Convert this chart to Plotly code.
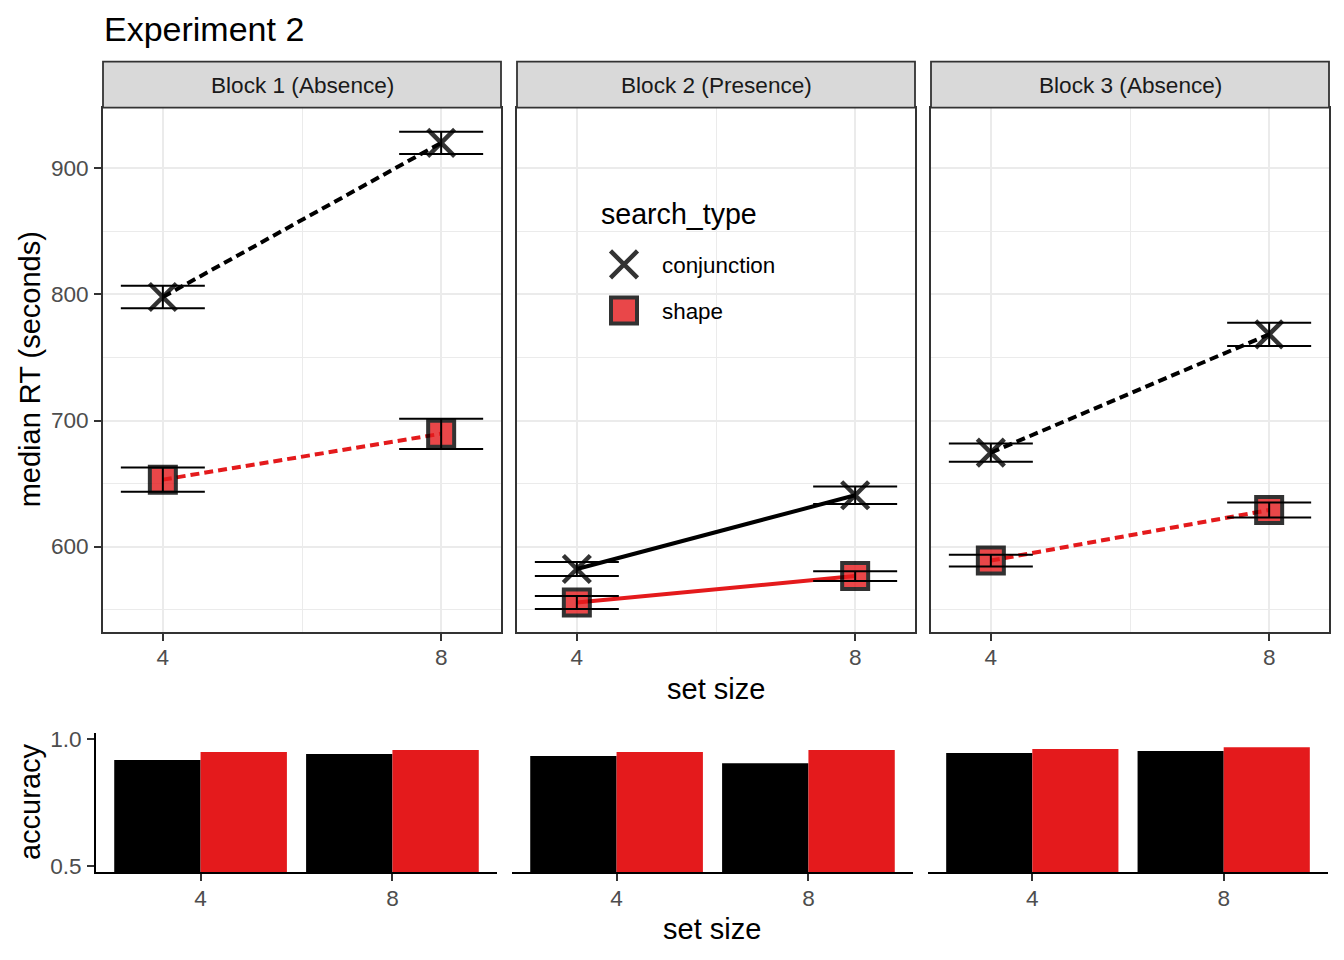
import plotly.graph_objects as go

# the page body has an 8px margin, so the figure is made that much smaller
OFF = 8
W, H = 1344 - 2 * OFF, 960 - 2 * OFF
# the photographed page comes out slightly squeezed vertically; undo it
SY, DY = 0.988, 6.5
FONT = "Liberation Sans, Arial, sans-serif"

blocks = ["Block 1 (Absence)", "Block 2 (Presence)", "Block 3 (Absence)"]
set_size = [4, 8]
set_size_labels = ["4", "8"]
search_types = ["conjunction", "shape"]

# median RT per block, values for set size 4 and 8
rt_conj = [[798.0, 920.3], [582.2, 640.7], [674.5, 768.4]]
rt_conj_err = [[9.0, 8.8], [5.5, 7.0], [7.2, 9.2]]
rt_shape = [[653.1, 689.5], [555.6, 576.6], [588.9, 629.0]]
rt_shape_err = [[9.6, 12.0], [5.2, 3.9], [4.7, 6.0]]

# accuracy per block
acc_conj = [[0.917, 0.941], [0.933, 0.905], [0.945, 0.953]]
acc_shape = [[0.949, 0.957], [0.949, 0.957], [0.961, 0.968]]

RED = "#E41A1C"
line_dash = ["9px,5px", "solid", "9px,5px"]

conj_marker = dict(symbol="x-thin-open", size=27, color="black", opacity=0.8,
                   line=dict(color="black", width=4.5))
shape_marker = dict(symbol="square", size=26, color=RED, opacity=0.8,
                    line=dict(color="black", width=4))

# panel boxes in window pixels
top_x = [(103, 501), (517, 915), (931, 1329)]
top_y = (108, 632.5)
strip_y = (62, 108)
bot_x = [(96, 497), (512, 913), (928, 1328)]
bot_y = (733.7, 873)


def fx(p):
    return (p - OFF) / W


def fy(p):
    p = (p - DY) / SY
    return 1 - (p - OFF) / H


fig = go.Figure()
layout = {}
tick_font = dict(family=FONT, size=22.6, color="#4D4D4D")

for i in range(3):
    xa, ya = "x%d" % (i + 1), "y%d" % (i + 1)
    for vals, col, mk in [(rt_conj[i], "black", conj_marker),
                          (rt_shape[i], RED, shape_marker)]:
        fig.add_trace(go.Scatter(x=set_size, y=vals, xaxis=xa, yaxis=ya, mode="lines+markers",
                                 line=dict(color=col, width=4, dash=line_dash[i]),
                                 marker=mk, showlegend=False))
    # error bars on top of the points
    for vals, errs in [(rt_conj[i], rt_conj_err[i]), (rt_shape[i], rt_shape_err[i])]:
        fig.add_trace(go.Scatter(x=set_size, y=vals, xaxis=xa, yaxis=ya, mode="markers",
                                 marker=dict(size=2, opacity=0),
                                 error_y=dict(type="data", array=errs, color="black",
                                              thickness=2, width=42),
                                 showlegend=False))

    layout["xaxis%d" % (i + 1)] = dict(
        domain=[fx(top_x[i][0]), fx(top_x[i][1])], anchor=ya, range=[3.14, 8.86],
        tickvals=set_size, ticktext=set_size_labels, showgrid=True, gridcolor="#EBEBEB",
        gridwidth=1.6, minor=dict(tickvals=[6], showgrid=True, gridcolor="#EBEBEB", gridwidth=0.8),
        showline=True, mirror=True, linecolor="#333333", linewidth=1.8,
        ticks="outside", ticklen=7, tickwidth=1.8, tickcolor="#333333",
        tickfont=tick_font, ticklabelstandoff=-3, zeroline=False)
    layout["yaxis%d" % (i + 1)] = dict(
        domain=[fy(top_y[1]), fy(top_y[0])], anchor=xa, range=[532.5, 948.3],
        tickvals=[600, 700, 800, 900], showgrid=True, gridcolor="#EBEBEB", gridwidth=1.6,
        minor=dict(tickvals=[550, 650, 750, 850], showgrid=True, gridcolor="#EBEBEB", gridwidth=0.8),
        showline=True, mirror=True, linecolor="#333333", linewidth=1.8,
        ticks="outside" if i == 0 else "", ticklen=7, tickwidth=1.8, tickcolor="#333333",
        showticklabels=(i == 0), tickfont=tick_font, ticklabelstandoff=1, zeroline=False)

# accuracy bars
for i in range(3):
    n = i + 4
    xa, ya = "x%d" % n, "y%d" % n
    fig.add_trace(go.Bar(x=set_size_labels, y=acc_conj[i], xaxis=xa, yaxis=ya,
                         marker=dict(color="black", line=dict(width=0)), showlegend=False))
    fig.add_trace(go.Bar(x=set_size_labels, y=acc_shape[i], xaxis=xa, yaxis=ya,
                         marker=dict(color=RED, line=dict(width=0)), showlegend=False))
    layout["xaxis%d" % n] = dict(
        domain=[fx(bot_x[i][0]), fx(bot_x[i][1])], anchor=ya, type="category",
        range=[-0.545, 1.545], showgrid=False, showline=True, linecolor="black", linewidth=1.8,
        ticks="outside", ticklen=7, tickwidth=1.8, tickcolor="#333333", tickfont=tick_font,
        ticklabelstandoff=-2, zeroline=False)
    layout["yaxis%d" % n] = dict(
        domain=[fy(bot_y[1]), fy(bot_y[0])], anchor=xa, range=[0.475, 1.025],
        tickvals=[0.5, 1.0], ticktext=["0.5", "1.0"], showgrid=False, zeroline=False,
        showline=(i == 0), linecolor="black", linewidth=1.8,
        ticks="outside" if i == 0 else "", ticklen=7, tickwidth=1.8, tickcolor="#333333",
        showticklabels=(i == 0), tickfont=tick_font, ticklabelstandoff=1)

# legend keys, drawn on a full-page overlay axis
fig.add_trace(go.Scatter(x=[624], y=[fy(265)], xaxis="x7", yaxis="y7", mode="markers",
                         marker=conj_marker, showlegend=False, hoverinfo="skip"))
fig.add_trace(go.Scatter(x=[624], y=[fy(311)], xaxis="x7", yaxis="y7", mode="markers",
                         marker=shape_marker, showlegend=False, hoverinfo="skip"))
layout["xaxis7"] = dict(domain=[0, 1], range=[OFF, OFF + W], visible=False, anchor="y7")
layout["yaxis7"] = dict(domain=[0, 1], range=[0, 1], visible=False, anchor="x7")

shapes = []
annotations = []
for i in range(3):
    shapes.append(dict(type="rect", xref="paper", yref="paper",
                       x0=fx(top_x[i][0]), x1=fx(top_x[i][1]), y0=fy(strip_y[1]), y1=fy(strip_y[0]),
                       fillcolor="#D9D9D9", line=dict(color="#333333", width=1.8)))
    annotations.append(dict(text=blocks[i], xref="paper", yref="paper", showarrow=False,
                            x=fx((top_x[i][0] + top_x[i][1]) / 2), y=fy(86),
                            xanchor="center", yanchor="middle",
                            font=dict(family=FONT, size=22.6, color="#1A1A1A")))


def label(text, x, y, size, angle=0, xanchor="center", color="black"):
    annotations.append(dict(text=text, xref="paper", yref="paper", showarrow=False,
                            x=fx(x), y=fy(y), xanchor=xanchor, yanchor="middle", textangle=angle,
                            font=dict(family=FONT, size=size, color=color)))


label("Experiment 2", 102, 29, 34, xanchor="left")
label("median RT (seconds)", 30, 370, 29, angle=-90)
label("set size", 716, 690, 29)
label("accuracy", 30, 803, 29, angle=-90)
label("set size", 712, 930, 29)
label("search_type", 599, 215, 28.6, xanchor="left")
label("conjunction", 660, 266, 22.4, xanchor="left")
label("shape", 660, 312, 22.4, xanchor="left")

fig.update_layout(
    width=W, height=H, margin=dict(l=0, r=0, t=0, b=0),
    paper_bgcolor="white", plot_bgcolor="rgba(0,0,0,0)",
    barmode="group", bargap=0.1, bargroupgap=0,
    shapes=shapes, annotations=annotations, font=dict(family=FONT),
    **layout)

fig.write_html("out.html")
